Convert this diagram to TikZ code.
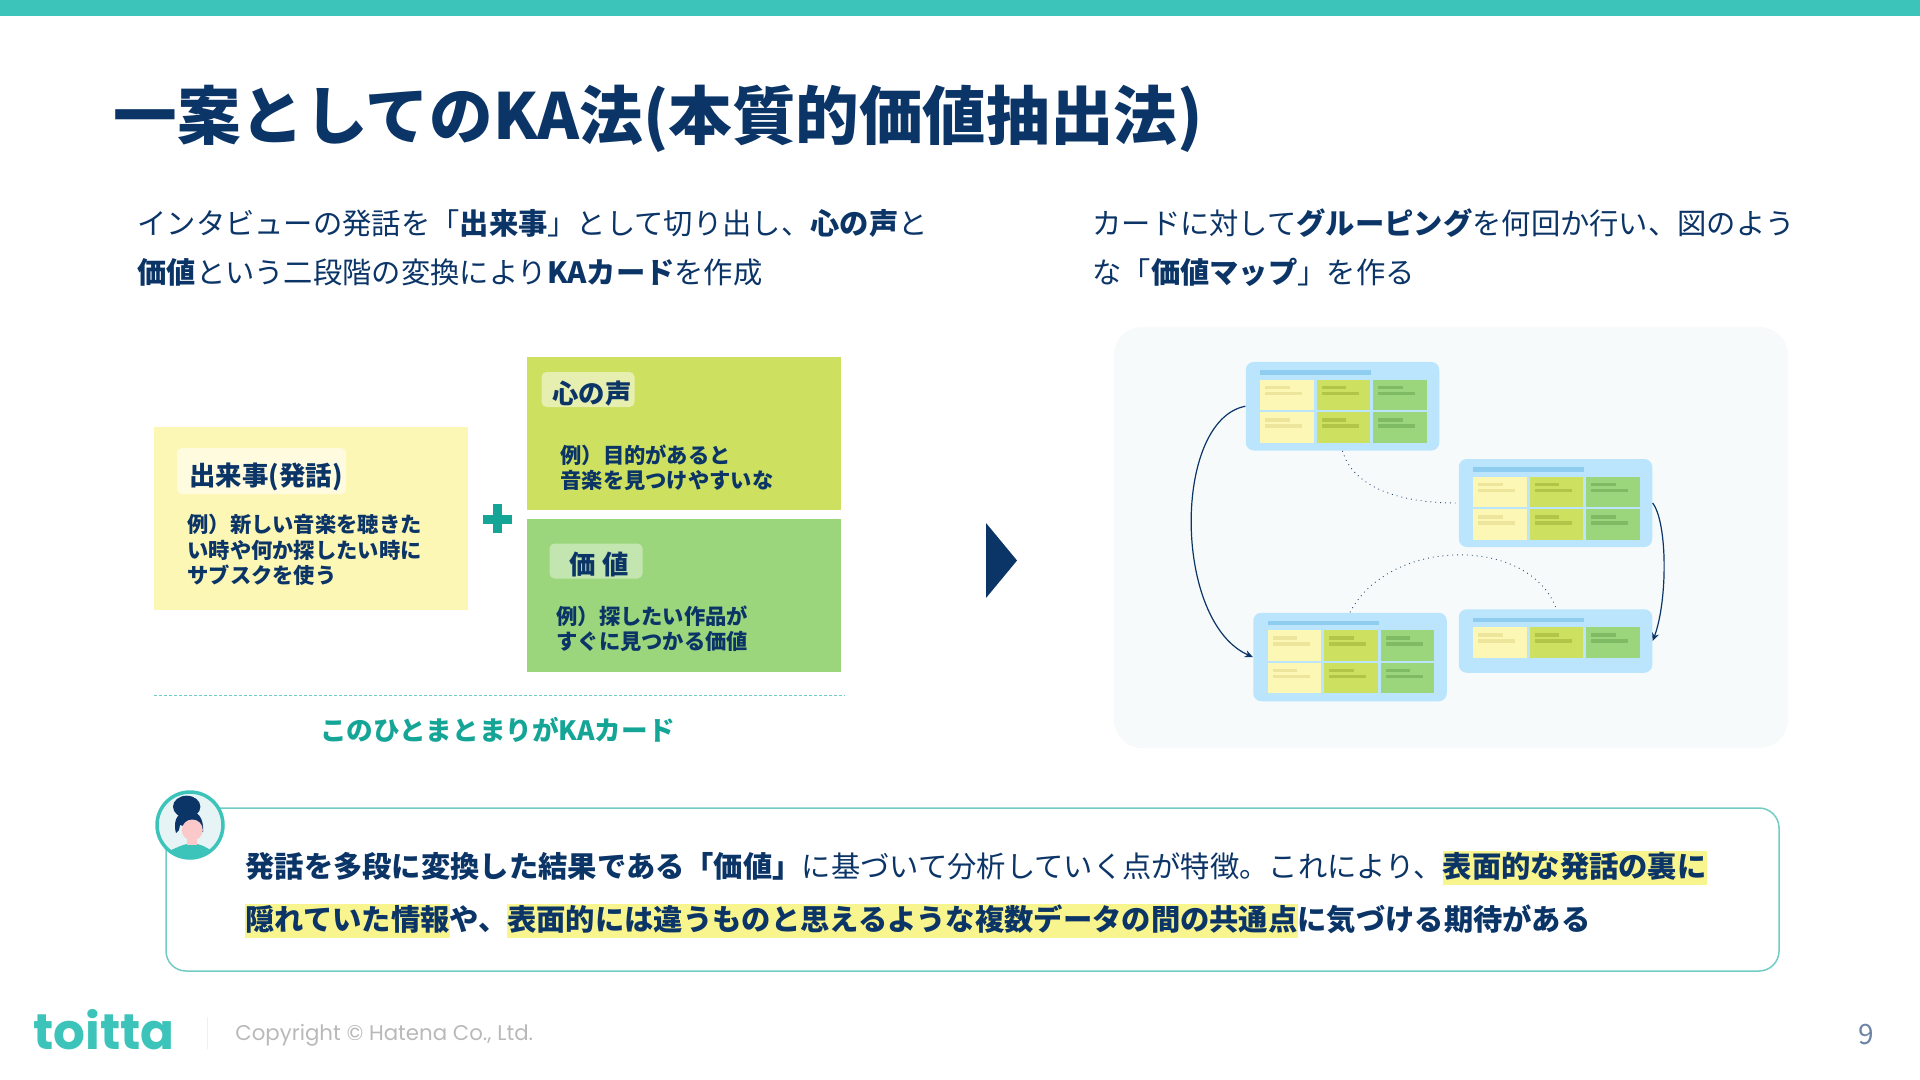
\documentclass[tikz,border=0pt]{standalone}
\usepackage{fontspec}
\usetikzlibrary{arrows.meta}
\setmainfont{Noto Sans CJK JP}
\newfontfamily\latinfont{Poppins}
\definecolor{kanavy}{HTML}{0B3467}
\definecolor{kateal}{HTML}{3CC4BA}
\definecolor{kadeepteal}{HTML}{14A596}
\definecolor{kaline}{HTML}{72CCC6}
\definecolor{kayellow}{HTML}{FDF7B5}
\definecolor{kalime}{HTML}{CDE05F}
\definecolor{kagreen}{HTML}{9BD57C}
\definecolor{kayellowline}{HTML}{EDE59B}
\definecolor{kalimeline}{HTML}{B2C548}
\definecolor{kagreenline}{HTML}{7FBB62}
\definecolor{kapanel}{HTML}{F6FAFB}
\definecolor{kacard}{HTML}{BAE5FC}
\definecolor{kacardbar}{HTML}{8FCDF0}
\definecolor{kamark}{HTML}{F8F48E}
\definecolor{kaface}{HTML}{FBC9C9}
\definecolor{kaavatar}{HTML}{E6F4F6}
\newcommand\marked[1]{{\setlength\fboxsep{0pt}\colorbox{kamark}{\rule[-4.2pt]{0pt}{17pt}#1}}}
% one card of the map: cells are placed from the card's top left corner
\newcommand\kacells[3]{%
  \begin{scope}[shift={(#1,#2)}]
    \fill[kacardbar] (14,8.3) rectangle (125,12.6);
    \foreach \rowy in {#3} {
      \foreach \colx/\cellcol/\linecol in {14/kayellow/kayellowline,70.5/kalime/kalimeline,127/kagreen/kagreenline} {
        \fill[\cellcol] (\colx,\rowy) rectangle +(53.5,30.5);
        \fill[\linecol] (\colx+5,\rowy+6.1) rectangle +(24.5,3.4);
        \fill[\linecol] (\colx+5,\rowy+12.1) rectangle +(37,3.4);
      }
    }
  \end{scope}}
\tikzset{
  every node/.style={inner sep=0pt, text=kanavy},
  titletext/.style={anchor=base west, font=\bfseries\fontsize{31.8}{38}\selectfont},
  bodytext/.style={anchor=base west, font=\fontsize{14.65}{18}\selectfont},
  calltext/.style={anchor=base west, font=\bfseries\fontsize{14.65}{18}\selectfont},
  tagtext/.style={anchor=base, font=\bfseries\fontsize{13.2}{16}\selectfont},
  tagbox/.style={rounded corners=2.5pt, minimum width=#1},
  sampletext/.style={anchor=west, align=left, font=\bfseries\fontsize{10.65}{12.75}\selectfont},
  colorbox/.style={minimum width=157pt},
  cardbox/.style={fill=kacard, rounded corners=4pt, minimum width=96.75pt},
  cardcurve/.style={draw=kanavy, line width=0.6pt, -{Stealth[length=4pt,width=3.5pt]}},
  carddots/.style={draw=kanavy!70!gray, line width=0.45pt, dotted},
}
\begin{document}
\begin{tikzpicture}[x=0.5pt, y=-0.5pt]
        \useasboundingbox (0,0) rectangle (1920,1080);
        \fill[kateal] (0,0) rectangle (1920,16);
        % Title and the two column texts
        \node[titletext] (title) at (113,140) {一案としてのKA法(本質的価値抽出法)};
        \node[bodytext] (leftA) at (137,234.5) {インタビューの発話を「\textbf{出来事}」として切り出し、\textbf{心の声}と};
        \node[bodytext] (leftB) at (137,283.5) {\textbf{価値}という二段階の変換により\textbf{KAカード}を作成};
        \node[bodytext] (rightA) at (1092,234.5) {カードに対して\textbf{グルーピング}を何回か行い、図のよう};
        \node[bodytext] (rightB) at (1092,283.5) {な「\textbf{価値マップ}」を作る};
        % KA card
        \node[colorbox, fill=kayellow, minimum height=91.5pt] (event) at (311,518.5) {};
        \node[colorbox, fill=kalime, minimum height=76.5pt] (voice) at (683.5,433.5) {};
        \node[colorbox, fill=kagreen, minimum height=76.5pt] (value) at (683.5,595) {};
        \node[tagbox=84.5pt, fill=kayellow!45!white, minimum height=23pt] (eventtag) at (261.5,471) {};
        \node[tagbox=46.5pt, fill=kalime!50!white, minimum height=17.5pt] (voicetag) at (588,389.5) {};
        \node[tagbox=46.5pt, fill=kagreen!60!white, minimum height=17.5pt] (valuetag) at (596,561) {};
        \node[tagtext] (eventname) at (266,485) {出来事(発話)};
        \node[tagtext] (voicename) at (592,403) {心の声};
        \node[tagtext] (valuename) at (599,574.5) {価 値};
        \node[sampletext] (eventsample) at (187,550) {例）新しい音楽を聴きた\\い時や何か探したい時に\\サブスクを使う};
        \node[sampletext] (voicesample) at (560,467.5) {例）目的があると\\音楽を見つけやすいな};
        \node[sampletext] (valuesample) at (556,628.5) {例）探したい作品が\\すぐに見つかる価値};
        \fill[kadeepteal] (483,514.5) rectangle (512,523.5);
        \fill[kadeepteal] (493,504) rectangle (502,533.4);
        \coordinate (ruleL) at (154,695.5);
        \coordinate (ruleR) at (845,695.5);
        \draw[kaline, line width=0.6pt, dash pattern=on 1.5pt off 1pt] (ruleL) -- (ruleR);
        \node[anchor=base, text=kadeepteal, font=\bfseries\fontsize{13.3}{16}\selectfont] (cardname) at (497.5,740) {このひとまとまりがKAカード};
        \fill[kanavy] (986,523) -- (1017,560.5) -- (986,598) -- cycle;
        % Value map
        \fill[kapanel, rounded corners=14pt] (1114,327) rectangle (1788,748);
        \node[cardbox, minimum height=44.25pt] (cardA) at (1342.5,406.25) {};
        \node[cardbox, minimum height=44pt] (cardB) at (1555.5,503) {};
        \node[cardbox, minimum height=44.25pt] (cardC) at (1350,657) {};
        \node[cardbox, minimum height=31.75pt] (cardD) at (1555.5,641) {};
        \kacells{1246}{362}{17.6,50}
        \kacells{1459}{459}{17.6,50}
        \kacells{1253.5}{612.75}{17.6,50}
        \kacells{1459}{609.25}{18}
        \draw[cardcurve] (cardA.west) .. controls +(-73,14) and +(-80,-35) .. (cardC.west);
        \draw[cardcurve] (cardB.east) .. controls +(15,20) and +(15,-40) .. (cardD.east);
        \draw[carddots] (cardA.south) .. controls +(10,35) and +(-60,0) .. ([xshift=-1pt]cardB.west);
        \draw[carddots] (cardC.north) .. controls +(39,-75) and +(-28,-71) .. ([yshift=1pt]cardD.north);
        % Comment box with its avatar
        \draw[kaline, line width=0.75pt, fill=white, rounded corners=10pt] (166,808) rectangle (1779,971);
        \node[calltext] (callA) at (245,877) {発話を多段に変換した結果である「価値」\mdseries に基づいて分析していく点が特徴。これにより、\marked{\bfseries 表面的な発話の裏に}};
        \node[calltext] (callB) at (245,930) {\marked{隠れていた情報}や、\marked{表面的には違うものと思えるような複数データの間の共通点}に気づける期待がある};
        \fill[kaavatar] (190,825) circle[radius=33];
        \begin{scope}
            \clip (190,825) circle[radius=33];
            \fill[kateal] (166,860) -- (169,851) .. controls (178,847) and (182,845) .. (187,844) -- (197,844) .. controls (202,845) and (206,847) .. (212,851) -- (214,860) -- cycle;
        \end{scope}
        \fill[kanavy] (186.7,806.7) ellipse[x radius=13.7, y radius=11];
        \fill[kanavy] (176,833) .. controls (172,818) and (180,811) .. (189,811) .. controls (198,811) and (204,818) .. (203,832) -- (180,825) -- (179,830) -- cycle;
        \fill[kaface] (187.3,836) rectangle (196.7,845);
        \fill[kaface] (192.3,830) circle[radius=10.5];
        \draw[kateal, line width=1.75pt] (190,825) circle[radius=33];
        % Footer
        \node[anchor=base west, text=kateal, font=\latinfont\bfseries\fontsize{25}{30}\selectfont] (logo) at (33,1049) {toitta};
        \coordinate (footerT) at (207,1017);
        \coordinate (footerB) at (207,1049);
        \draw[gray!12, line width=0.5pt] (footerT) -- (footerB);
        \node[anchor=base west, text=gray!55, font=\latinfont\fontsize{10.65}{13}\selectfont] (copyright) at (235,1040) {Copyright © Hatena Co., Ltd.};
        \node[anchor=base, text=kanavy!60!white, font=\fontsize{14}{15}\selectfont] (pagenum) at (1866.5,1044) {9};
    \end{tikzpicture}
\end{document}
